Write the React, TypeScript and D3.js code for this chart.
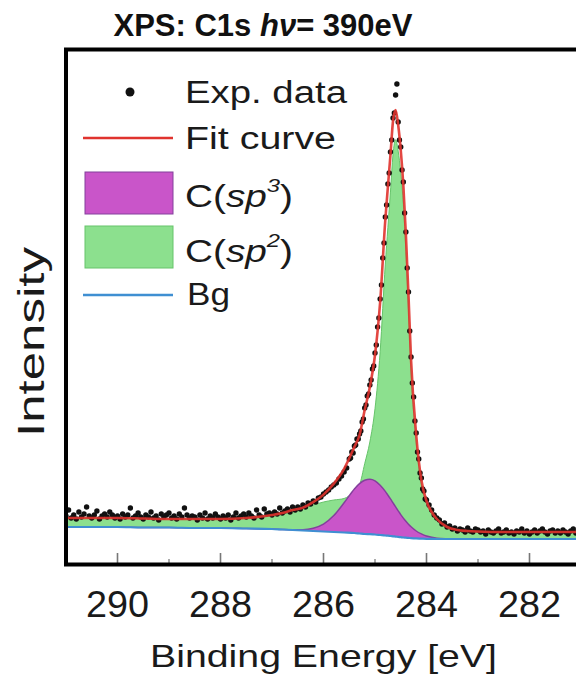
import React from 'react';
import * as d3 from 'd3';

// Binding energies of the fitted curves (eV)
const componentEnergy = [
  291.0, 290.5, 290.0, 289.5, 289.0, 288.5, 288.0, 287.5,
  287.0, 286.8, 286.6, 286.4, 286.2, 286.0, 285.8, 285.6,
  285.4, 285.3, 285.2, 285.1, 285.0, 284.9, 284.8,
  284.75, 284.7, 284.65, 284.6, 284.55, 284.5, 284.45, 284.4, 284.35, 284.3,
  284.2, 284.1, 284.0, 283.9, 283.8,
  283.6, 283.4, 283.2, 283.0,
  282.5, 282.0, 281.5, 281.0,
];
// Shirley-type background
const background = [
  38, 38, 38, 37.5, 37.5, 37, 37, 36.5,
  36, 35.5, 35, 34.5, 34, 33.5, 33, 32.5,
  32, 31.5, 31, 30.8, 30.5, 30, 29.5,
  29.3, 29, 28.7, 28.4, 28.1, 27.8, 27.5, 27.3, 27.1, 26.9,
  26.6, 26.4, 26.2, 26.1, 26,
  26, 26, 26, 26,
  26, 26, 26, 26,
];
// C(sp3) component (above background)
const sp3Component = [
  0, 0, 0, 0, 0, 0, 0, 0,
  0, 0, 0.2, 0.8, 2.8, 7.4, 16.4, 29.7,
  44.1, 49.8, 53.7, 55, 53.7, 49.8, 44.1,
  40.6, 37.1, 33.4, 29.7, 26.1, 22.6, 19.4, 16.4, 13.7, 11.3,
  7.4, 4.7, 2.8, 1.6, 0.8,
  0.2, 0, 0, 0,
  0, 0, 0, 0,
];
// C(sp2) component (above background)
const sp2Component = [
  9, 9, 9, 9, 8.5, 9, 9, 10.5,
  14, 16.5, 19.8, 22, 26, 29.5, 32, 34,
  42, 48.7, 70.3, 92.2, 125.8, 183.2, 271.4,
  308.1, 343.9, 381.9, 396.9, 385.8, 364.6, 333.1, 286.3, 229.2, 166.8,
  96, 53.9, 35, 25.3, 19.2,
  11.8, 9, 8, 7.5,
  7, 7, 7, 7,
];

// Experimental data, three scan segments
const expStartA = 291.0;
const expStepA = 0.05;
const expDataA = [
  49, 55, 47, 50, 46, 53, 48, 51, 58, 49,
  47, 50, 54, 46, 49, 51, 48, 53, 50, 47,
  49, 46, 51, 48, 50, 57, 47, 49, 52, 48,
  46, 50, 48, 53, 47, 49, 45, 51, 48, 50,
  52, 47, 49, 46, 51, 48, 57, 50, 47, 49,
  48, 45, 50, 47, 52, 46, 49, 47, 51, 48,
  46, 49, 47, 50, 45, 48, 52, 47, 49, 51,
  48, 52, 49, 47, 55, 50, 48, 56, 51, 52,
  50, 53, 51, 57, 52, 54, 56, 53, 58, 55,
  58, 56, 60, 58, 62, 61, 64, 63, 67, 68,
  71, 73, 75, 78, 80, 82, 86, 89, 93, 97,
];
const expStartB = 285.5;
const expStepB = 0.025;
const expDataB = [
  106, 107, 113, 112, 119, 120, 126, 126, 131, 134,
  143, 146, 157, 160, 169, 171, 180, 185, 196, 199,
  212, 220, 238, 247, 266, 280, 307, 322, 348, 360,
  381, 392, 413, 425, 447, 452, 470, 481, 443, 425,
  418, 395, 383, 352, 333, 297, 273, 234, 208, 182,
  168, 144, 132, 113, 106, 92, 87, 76, 74, 66, 65,
];
const expStartC = 283.95;
const expStepC = 0.05;
const expDataC = [
  60, 55, 50, 47, 45, 41, 42, 38, 39, 36,
  37, 34, 36, 35, 33, 37, 34, 33, 36, 35,
  33, 34, 31, 35, 33, 32, 34, 36, 32, 33,
  35, 32, 33, 31, 34, 33, 36, 32, 34, 31,
  33, 35, 32, 34, 36, 33, 31, 34, 35, 32,
  34, 32, 35, 33, 31, 34, 36, 32, 33, 34,
];

const majorTicks = [290, 288, 286, 284, 282];
const minorTicks = [289, 287, 285, 283];

const COLORS = {
  fit: '#e0332e',
  sp3: '#c955c9',
  sp3Edge: '#84409c',
  sp2: '#8ce08e',
  sp2Edge: '#66c46a',
  bg: '#3f8fd2',
  data: '#111111',
};

const FONT = "'Liberation Sans', Arial, Helvetica, sans-serif";

type Comp = { e: number; bg: number; s3: number; s2: number };
type Pt = { e: number; v: number };

function segment(start: number, step: number, vals: number[]): Pt[] {
  return vals.map((v, i) => ({ e: Math.round((start - i * step) * 1000) / 1000, v }));
}

export default function App() {
  const x = d3.scaleLinear().domain([291, 281]).range([66, 581]);
  const y = d3.scaleLinear().domain([0, 516]).range([565, 49]);

  const comp: Comp[] = componentEnergy.map((e, i) => ({
    e,
    bg: background[i],
    s3: sp3Component[i],
    s2: sp2Component[i],
  }));

  const exp: Pt[] = [
    ...segment(expStartA, expStepA, expDataA),
    ...segment(expStartB, expStepB, expDataB),
    ...segment(expStartC, expStepC, expDataC),
  ];

  const curve = d3.curveMonotoneX;
  const areaSp2 = d3
    .area<Comp>()
    .x((d) => x(d.e))
    .y0((d) => y(d.bg))
    .y1((d) => y(d.bg + d.s2))
    .curve(curve);
  const lineSp2 = d3
    .line<Comp>()
    .x((d) => x(d.e))
    .y((d) => y(d.bg + d.s2))
    .curve(curve);
  const areaSp3 = d3
    .area<Comp>()
    .x((d) => x(d.e))
    .y0((d) => y(d.bg))
    .y1((d) => y(d.bg + d.s3))
    .curve(curve);
  const lineSp3 = d3
    .line<Comp>()
    .x((d) => x(d.e))
    .y((d) => y(d.bg + d.s3))
    .curve(curve);
  const lineBg = d3
    .line<Comp>()
    .x((d) => x(d.e))
    .y((d) => y(d.bg))
    .curve(curve);
  const lineFit = d3
    .line<Comp>()
    .x((d) => x(d.e))
    .y((d) => y(d.bg + d.s2 + d.s3))
    .curve(curve);

  const bottom = 565;

  return (
    <svg
      width={576}
      height={679}
      style={{ position: 'absolute', left: 0, top: 0, background: '#ffffff' }}
      fontFamily={FONT}
    >
      <defs>
        <clipPath id="plotClip">
          <rect x={66} y={49} width={530} height={516} />
        </clipPath>
      </defs>

      {/* Title */}
      <text x={263} y={36} fontSize={31} fontWeight="bold" fill="#111" textAnchor="middle">
        XPS: C1s <tspan fontStyle="italic">hν</tspan>= 390eV
      </text>

      {/* Plot contents */}
      <g clipPath="url(#plotClip)">
        <path d={areaSp2(comp) || ''} fill={COLORS.sp2} />
        <path d={lineSp2(comp) || ''} fill="none" stroke={COLORS.sp2Edge} strokeWidth={1} />
        <path d={areaSp3(comp) || ''} fill={COLORS.sp3} />
        <path d={lineSp3(comp) || ''} fill="none" stroke={COLORS.sp3Edge} strokeWidth={1.5} />
        <path d={lineBg(comp) || ''} fill="none" stroke={COLORS.bg} strokeWidth={2.2} />
        {exp.map((d, i) => (
          <circle key={i} cx={x(d.e)} cy={y(d.v)} r={2.7} fill={COLORS.data} />
        ))}
        <path d={lineFit(comp) || ''} fill="none" stroke={COLORS.fit} strokeWidth={2.6} opacity={0.9} />
      </g>

      {/* Ticks */}
      {majorTicks.map((t) => (
        <line key={'M' + t} x1={x(t)} x2={x(t)} y1={bottom - 12} y2={bottom} stroke="#777" strokeWidth={1.6} />
      ))}
      {minorTicks.map((t) => (
        <line key={'m' + t} x1={x(t)} x2={x(t)} y1={bottom - 6} y2={bottom} stroke="#888" strokeWidth={1.4} />
      ))}

      {/* Frame */}
      <rect x={66} y={49.5} width={620} height={515} fill="none" stroke="#000" strokeWidth={4} />

      {/* Tick labels */}
      {majorTicks.map((t) => (
        <text
          key={'L' + t}
          x={x(t) - 31.5}
          y={617}
          fontSize={36}
          fill="#1a1a1a"
          textLength={63}
          lengthAdjust="spacingAndGlyphs"
        >
          {t}
        </text>
      ))}

      {/* Axis labels */}
      <text
        x={150}
        y={667}
        fontSize={32}
        fill="#1a1a1a"
        textLength={347}
        lengthAdjust="spacingAndGlyphs"
      >
        Binding Energy [eV]
      </text>
      <text
        transform="translate(44,437) rotate(-90)"
        x={0}
        y={0}
        fontSize={36}
        fill="#1a1a1a"
        textLength={190}
        lengthAdjust="spacingAndGlyphs"
      >
        Intensity
      </text>

      {/* Legend */}
      <g>
        <circle cx={130} cy={92} r={4.5} fill={COLORS.data} />
        <line x1={83} x2={173} y1={138} y2={138} stroke={COLORS.fit} strokeWidth={2.5} />
        <rect x={85} y={172} width={88} height={42} fill={COLORS.sp3} stroke={COLORS.sp3Edge} strokeWidth={1} />
        <rect x={85} y={226} width={88} height={42} fill={COLORS.sp2} stroke={COLORS.sp2Edge} strokeWidth={1} />
        <line x1={83} x2={173} y1={295} y2={295} stroke={COLORS.bg} strokeWidth={2.5} />

        <text x={185} y={103} fontSize={31} fill="#1a1a1a" textLength={162} lengthAdjust="spacingAndGlyphs">
          Exp. data
        </text>
        <text x={185} y={149} fontSize={31} fill="#1a1a1a" textLength={151} lengthAdjust="spacingAndGlyphs">
          Fit curve
        </text>
        <text x={185} y={207} fontSize={31} fill="#1a1a1a" textLength={108} lengthAdjust="spacingAndGlyphs">
          C(<tspan fontStyle="italic">sp</tspan>
          <tspan fontStyle="italic" fontSize={19} dy={-15}>3</tspan>
          <tspan dy={15}>)</tspan>
        </text>
        <text x={185} y={262} fontSize={31} fill="#1a1a1a" textLength={108} lengthAdjust="spacingAndGlyphs">
          C(<tspan fontStyle="italic">sp</tspan>
          <tspan fontStyle="italic" fontSize={19} dy={-15}>2</tspan>
          <tspan dy={15}>)</tspan>
        </text>
        <text x={187} y={305} fontSize={31} fill="#1a1a1a" textLength={43} lengthAdjust="spacingAndGlyphs">
          Bg
        </text>
      </g>
    </svg>
  );
}
